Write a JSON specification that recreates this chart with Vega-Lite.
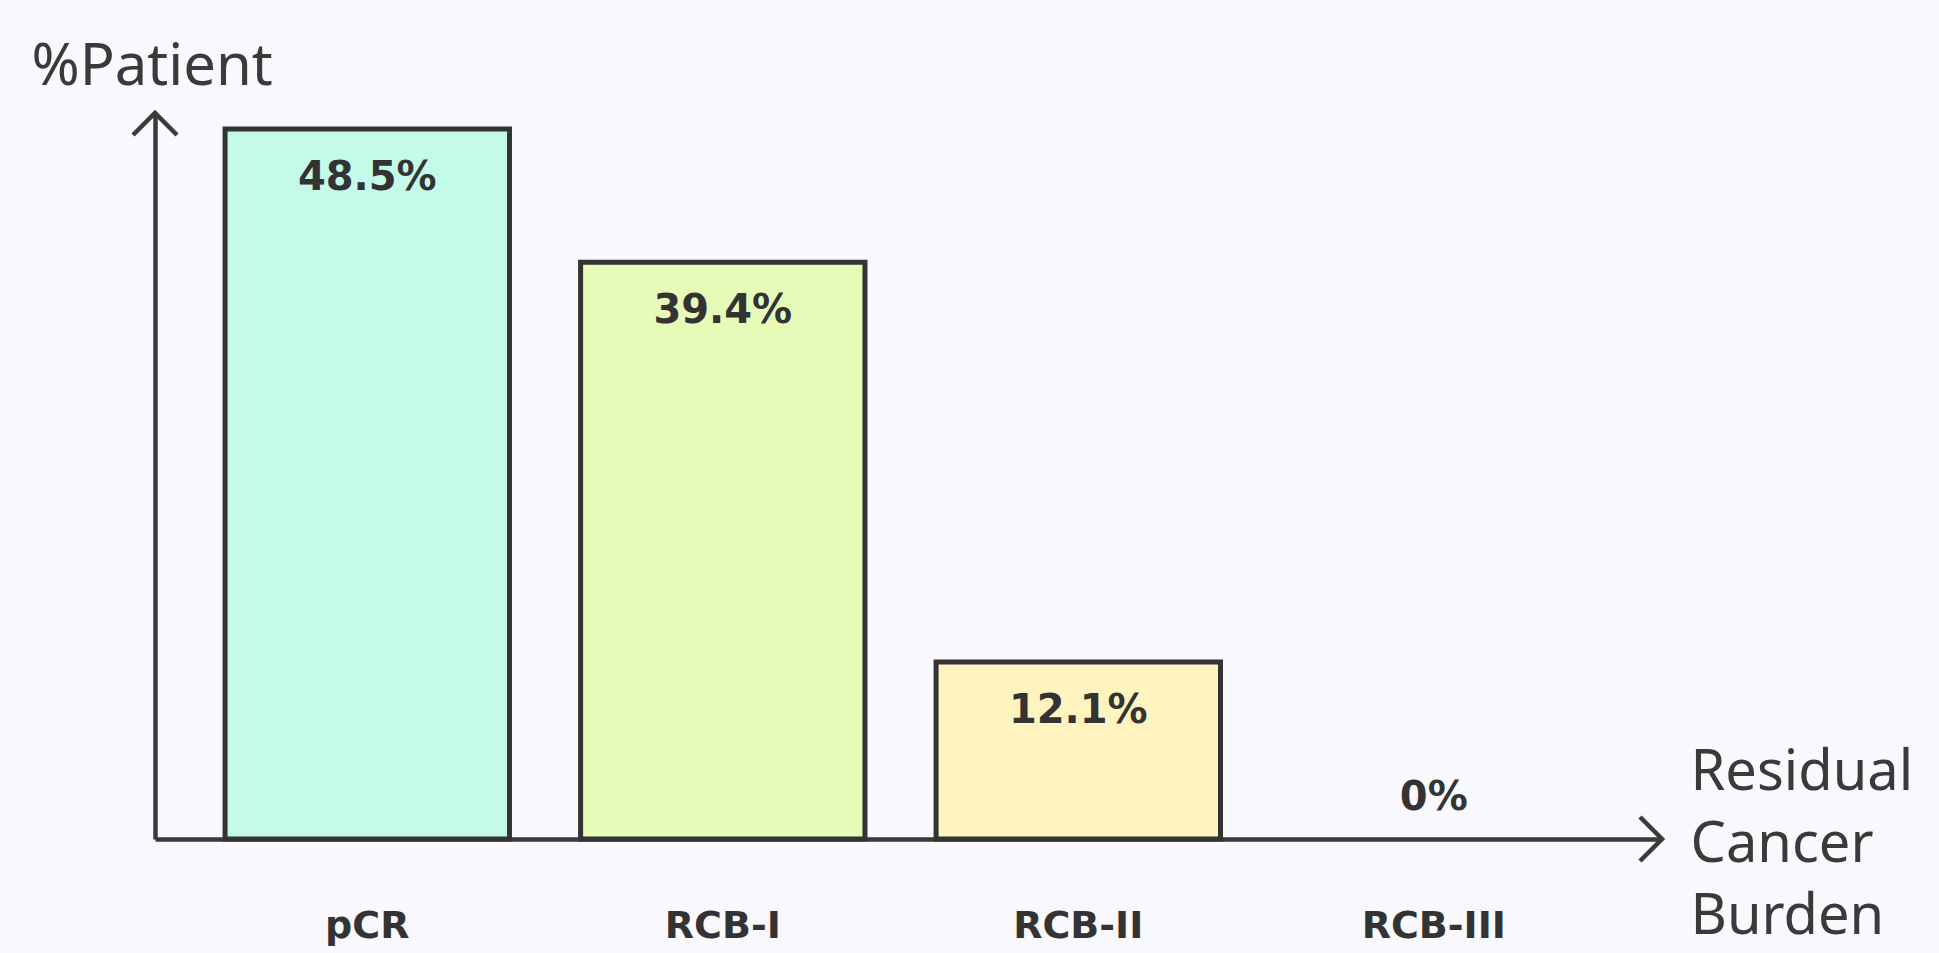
{
  "$schema": "https://vega.github.io/schema/vega-lite/v6.json",
  "autosize": {"type": "none"},
  "padding": {"left": 155, "top": 113, "right": 277, "bottom": 114},
  "width": 1507,
  "height": 726,
  "background": "#f8f8fd",
  "config": {"view": {"stroke": null}},
  "layer": [
    {
      "data": {
        "values": [
          {"category": "pCR", "value": 48.5, "label": "48.5%"},
          {"category": "RCB-I", "value": 39.4, "label": "39.4%"},
          {"category": "RCB-II", "value": 12.1, "label": "12.1%"},
          {"category": "RCB-III", "value": 0, "label": "0%"}
        ]
      },
      "encoding": {
        "x": {
          "field": "category",
          "type": "nominal",
          "sort": ["pCR", "RCB-I", "RCB-II", "RCB-III"],
          "scale": {"paddingInner": 0.2, "paddingOuter": 0.2195, "align": 0.449},
          "axis": {
            "title": ["Residual", "Cancer", "Burden"],
            "titleFont": "Noto Sans",
            "titleFontWeight": "normal",
            "titleFontSize": 56,
            "titleColor": "#3a3a3a",
            "titleLineHeight": 72,
            "titleAlign": "left",
            "titleBaseline": "middle",
            "titleAngle": 0,
            "titleX": 1535,
            "titleY": -67,
            "domain": true,
            "domainColor": "#3a3a3a",
            "domainWidth": 4.5,
            "ticks": false,
            "tickSize": 0,
            "grid": false,
            "labelAngle": 0,
            "labelFont": "DejaVu Sans",
            "labelFontWeight": "bold",
            "labelFontSize": 38,
            "labelColor": "#333333",
            "labelBaseline": "middle",
            "labelPadding": 87
          }
        },
        "y": {
          "field": "value",
          "type": "quantitative",
          "scale": {"domain": [0, 49.6], "nice": false},
          "axis": {
            "title": "%Patient",
            "titleFont": "Noto Sans",
            "titleFontWeight": "normal",
            "titleFontSize": 58,
            "titleColor": "#3a3a3a",
            "titleAngle": 0,
            "titleAlign": "left",
            "titleBaseline": "alphabetic",
            "titleX": -124,
            "titleY": -29,
            "domain": true,
            "domainColor": "#3a3a3a",
            "domainWidth": 4.5,
            "ticks": false,
            "labels": false,
            "grid": false
          }
        }
      },
      "layer": [
        {
          "transform": [{"filter": "datum.value > 0"}],
          "mark": {"type": "bar", "stroke": "#333333", "strokeWidth": 5},
          "encoding": {
            "color": {
              "field": "category",
              "type": "nominal",
              "scale": {
                "domain": ["pCR", "RCB-I", "RCB-II", "RCB-III"],
                "range": ["#c3fae8", "#e6fbb8", "#fff3bf", "#ffe8cc"]
              },
              "legend": null
            }
          }
        },
        {
          "transform": [{"filter": "datum.value > 0"}],
          "mark": {"type": "text", "font": "DejaVu Sans", "fontWeight": "bold", "fontSize": 40, "color": "#333333", "baseline": "middle", "dy": 49},
          "encoding": {"text": {"field": "label"}}
        },
        {
          "transform": [{"filter": "datum.value == 0"}],
          "mark": {"type": "text", "font": "DejaVu Sans", "fontWeight": "bold", "fontSize": 40, "color": "#333333", "baseline": "middle", "dy": -41},
          "encoding": {"text": {"field": "label"}}
        }
      ]
    },
    {
      "data": {"values": [{}]},
      "mark": {"type": "point", "shape": "M -1 1 L 0 0 L 1 1", "size": 1936, "filled": false, "fill": null, "stroke": "#3a3a3a", "strokeWidth": 4.5, "opacity": 1, "x": 0, "y": 0},
      "encoding": {}
    },
    {
      "data": {"values": [{}]},
      "mark": {"type": "point", "shape": "M -1 -1 L 0 0 L -1 1", "size": 1936, "filled": false, "fill": null, "stroke": "#3a3a3a", "strokeWidth": 4.5, "opacity": 1, "x": {"expr": "width"}, "y": {"expr": "height"}},
      "encoding": {}
    }
  ]
}
